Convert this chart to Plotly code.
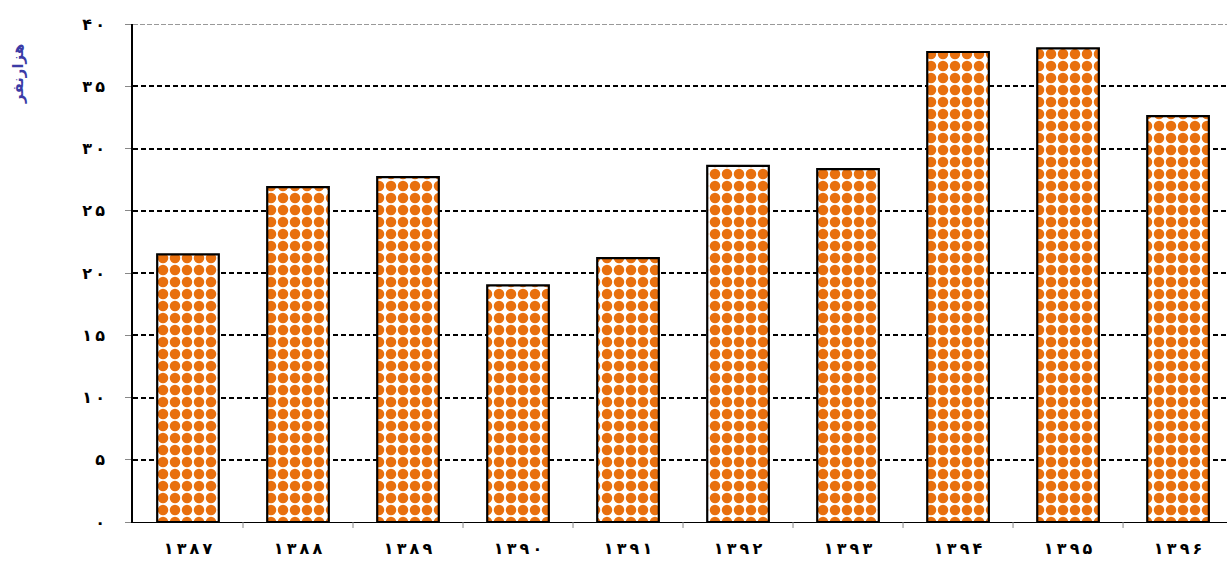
import plotly.graph_objects as go

# Annual values (thousand persons) by Persian year
years = ["۱۳۸۷", "۱۳۸۸", "۱۳۸۹", "۱۳۹۰", "۱۳۹۱", "۱۳۹۲", "۱۳۹۳", "۱۳۹۴", "۱۳۹۵", "۱۳۹۶"]
values = [21.5, 26.9, 27.7, 19.0, 21.2, 28.6, 28.35, 37.75, 38.05, 32.6]

y_tickvals = [0, 5, 10, 15, 20, 25, 30, 35, 40]
y_ticktext = ["۰", "۵", "۱۰", "۱۵", "۲۰", "۲۵", "۳۰", "۳۵", "۴۰"]
y_title = "هزارنفر"

font_family = "DejaVu Sans"
THIN = "\u2009"


def spaced(label):
    # widen the digit spacing of a label
    return "<b>" + THIN.join(label) + "</b>"


fig = go.Figure()
fig.add_trace(go.Bar(
    x=list(range(len(years))),
    y=values,
    width=0.56,
    marker=dict(
        color="white",
        line=dict(color="black", width=2.2),
        pattern=dict(shape=".", fgcolor="#E8700F", bgcolor="white",
                     size=12, solidity=0.6, fillmode="replace"),
    ),
    hoverinfo="skip",
))

fig.update_layout(
    width=1227, height=563,
    margin=dict(l=133, r=0, t=24, b=41),
    paper_bgcolor="white", plot_bgcolor="white",
    showlegend=False,
    font=dict(family=font_family, color="black"),
    xaxis=dict(
        range=[-0.5, 9.445],
        tickvals=list(range(len(years))),
        ticktext=[spaced(y) for y in years],
        tickfont=dict(size=16, family=font_family),
        showgrid=False,
        showline=True, linecolor="black", linewidth=1,
        ticks="", zeroline=False,
        ticklabelstandoff=12,
    ),
    yaxis=dict(
        range=[0, 40],
        tickvals=y_tickvals,
        ticktext=[spaced(t) for t in y_ticktext],
        tickfont=dict(size=16, family=font_family),
        showgrid=True, gridcolor="black", griddash="5px,3px", gridwidth=1.5,
        showline=True, linecolor="black", linewidth=1.5,
        ticks="outside", ticklen=6, tickcolor="#888888",
        ticklabelstandoff=17,
        zeroline=False,
    ),
)

# Category boundary tick marks below the x axis
for i in range(len(years)):
    fig.add_shape(type="line", xref="x", yref="paper",
                  x0=i + 0.5, x1=i + 0.5, y0=0, y1=-0.012,
                  line=dict(color="#888888", width=1))

# Top border line at 40
fig.add_shape(type="line", xref="paper", yref="y", x0=0, x1=1, y0=40, y1=40,
              line=dict(color="#999999", width=2, dash="5px,2px"), layer="above")

fig.add_annotation(
    text="<b>" + y_title + "</b>",
    xref="paper", yref="paper", x=-0.105, y=0.90,
    xanchor="center", yanchor="middle",
    textangle=-90, showarrow=False,
    font=dict(size=15, color="#3B3BA6", family=font_family),
)

fig.write_html("out.html")
